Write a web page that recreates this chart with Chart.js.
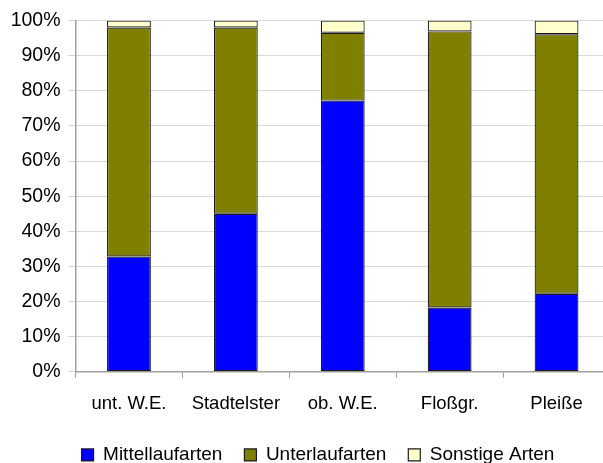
<!DOCTYPE html>
<html>
<head>
<meta charset="utf-8">
<script src="https://cdn.jsdelivr.net/npm/chart.js@4/dist/chart.umd.min.js"></script>
<style>
  html, body { margin: 0; padding: 0; background: #fff; overflow: hidden; }
  #wrap { width: 612px; height: 463px; position: relative; }
</style>
</head>
<body>
<div id="wrap"><canvas id="c"></canvas></div>
<script>
// Anteile der Artengruppen je Gewässerabschnitt (in %)
const categories = ['unt. W.E.', 'Stadtelster', 'ob. W.E.', 'Floßgr.', 'Pleiße'];
const mittellaufarten = [32.8, 45.0, 77.2, 18.3, 22.2];
const unterlaufarten  = [65.2, 53.0, 19.3, 78.6, 73.9];
const sonstigeArten   = [2.0, 2.0, 3.5, 3.1, 3.9];
const yTicks = [0, 10, 20, 30, 40, 50, 60, 70, 80, 90, 100];

const FONT = "'Liberation Sans', Arial, sans-serif";

// Legende etwas nach rechts versetzt zentrieren
const legendOffset = {
  id: 'legendOffset',
  afterLayout(chart) {
    if (chart.legend) { chart.legend.left = 26; }
  }
};

new Chart(document.getElementById('c'), {
  type: 'bar',
  data: {
    labels: categories,
    datasets: [
      { label: 'Mittellaufarten', data: mittellaufarten, backgroundColor: '#0000ff' },
      { label: 'Unterlaufarten',  data: unterlaufarten,  backgroundColor: '#808000' },
      { label: 'Sonstige Arten',  data: sonstigeArten,   backgroundColor: '#ffffcc' }
    ].map(d => Object.assign(d, {
      borderColor: '#1a1a1a',
      borderWidth: 1.2,
      borderSkipped: false,
      categoryPercentage: 1.0,
      barPercentage: 0.41
    }))
  },
  plugins: [legendOffset],
  options: {
    responsive: true,
    maintainAspectRatio: false,
    animation: false,
    layout: { padding: { top: 20.5, right: 2, bottom: -11.4, left: 0 } },
    scales: {
      x: {
        stacked: true,
        afterFit: s => { s.height = 51.6; },
        grid: {
          display: true,
          offset: true,
          drawOnChartArea: false,
          drawTicks: true,
          tickLength: 6,
          color: '#a0a0a0'
        },
        border: { display: true, color: '#a0a0a0', width: 1.5 },
        ticks: {
          padding: 15.4,
          color: '#000',
          font: { family: FONT, size: 18.5 },
          maxRotation: 0
        }
      },
      y: {
        stacked: true,
        min: 0,
        max: 100,
        afterFit: s => { s.width = 75.5; },
        afterBuildTicks: s => { s.ticks = yTicks.map(v => ({ value: v })); },
        grid: {
          color: '#d9d9d9',
          lineWidth: 1,
          tickLength: 7,
          tickColor: '#d0d0d0'
        },
        border: { display: true, color: '#a0a0a0', width: 1.5 },
        ticks: {
          padding: 8,
          color: '#000',
          font: { family: FONT, size: 19.5 },
          callback: v => v + '%'
        }
      }
    },
    plugins: {
      tooltip: { enabled: false },
      legend: {
        position: 'bottom',
        labels: {
          boxWidth: 12,
          boxHeight: 12,
          padding: 22,
          color: '#000',
          font: { family: FONT, size: 19 }
        }
      }
    }
  }
});
</script>
</body>
</html>
